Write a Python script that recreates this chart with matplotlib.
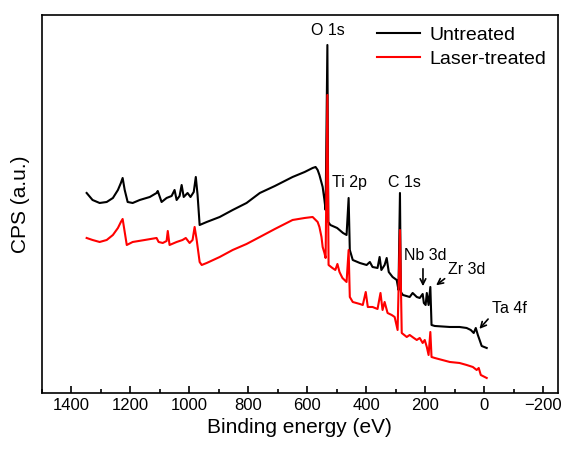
import matplotlib
matplotlib.use("Agg")
import matplotlib.pyplot as plt
from matplotlib.ticker import MultipleLocator

plt.rcParams['font.family'] = ['Liberation Sans', 'DejaVu Sans']

# Binding energy (eV) and intensity (a.u.)
untreated_be = [1347, 1327, 1303, 1279, 1258, 1241, 1231, 1225, 1218, 1208,
                1191, 1167, 1133, 1110, 1106, 1093, 1076, 1059, 1049, 1042,
                1032, 1025, 1018, 1005, 995, 984, 977, 971, 964, 940,
                896, 852, 805, 760, 709, 649, 608, 581, 571, 564,
                558, 547, 541, 537, 531, 528, 521, 498, 478, 466,
                459, 455, 445, 421, 398, 387, 378, 361, 354, 348,
                337, 330, 323, 310, 296, 290, 285, 282, 275, 252,
                242, 228, 218, 208, 204, 198, 194, 188, 182, 178,
                167, 116, 83, 59, 45, 35, 28, 21, 15, 8, -9]
untreated_cps = [200, 193, 190, 191, 195, 203, 210, 215, 203, 191,
                 190, 193, 196, 200, 202, 191, 195, 197, 203, 193,
                 197, 208, 196, 200, 196, 201, 216, 198, 168, 171,
                 176, 183, 190, 200, 207, 216, 221, 225, 226, 223,
                 218, 206, 193, 183, 348, 171, 168, 165, 160, 158,
                 195, 143, 133, 130, 128, 131, 126, 125, 136, 123,
                 128, 135, 121, 116, 113, 103, 200, 101, 98, 96,
                 100, 96, 95, 99, 90, 88, 100, 88, 106, 68,
                 67, 66, 66, 65, 63, 60, 65, 58, 53, 47, 45]

laser_be = [1347, 1327, 1303, 1279, 1258, 1241, 1231, 1225, 1218, 1211,
            1191, 1150, 1110, 1103, 1089, 1076, 1072, 1066, 1042, 1022,
            1011, 998, 988, 981, 974, 964, 957, 940, 896, 852,
            805, 760, 709, 649, 608, 581, 564, 558, 551, 547,
            541, 537, 531, 527, 514, 504, 497, 490, 480, 466,
            459, 455, 445, 421, 411, 401, 394, 378, 361, 351,
            344, 337, 327, 313, 303, 293, 285, 279, 262, 252,
            238, 228, 218, 208, 201, 194, 188, 182, 178, 167,
            116, 83, 59, 38, 25, 18, 11, -9]
laser_cps = [155, 153, 151, 153, 158, 165, 171, 174, 161, 148,
             151, 153, 155, 151, 150, 152, 162, 148, 151, 153,
             155, 150, 153, 166, 153, 131, 128, 130, 136, 143,
             149, 156, 164, 173, 175, 176, 171, 166, 156, 146,
             140, 135, 298, 128, 125, 123, 129, 121, 115, 111,
             143, 96, 91, 89, 88, 101, 86, 86, 84, 100,
             83, 91, 80, 78, 76, 63, 163, 60, 56, 58,
             55, 53, 55, 50, 53, 46, 38, 61, 36, 35,
             31, 30, 28, 26, 23, 25, 18, 15]

fig = plt.figure(figsize=(5.64, 4.5), dpi=100)
ax = fig.add_axes([0.0736, 0.1267, 0.9154, 0.84])

ax.plot(untreated_be, untreated_cps, color='black', lw=1.5, label='Untreated')
ax.plot(laser_be, laser_cps, color='red', lw=1.5, label='Laser-treated')

ax.set_xlim(1500, -250)
ax.set_ylim(0, 378)
ax.xaxis.set_major_locator(MultipleLocator(200))
ax.xaxis.set_minor_locator(MultipleLocator(100))
ax.tick_params(axis='x', which='both', direction='in', labelsize=12, width=1.2)
ax.tick_params(axis='x', which='major', length=5)
ax.tick_params(axis='x', which='minor', length=3)
ax.set_yticks([])
for s in ax.spines.values():
    s.set_linewidth(1.2)

ax.set_xlabel('Binding energy (eV)', fontsize=15)
ax.set_ylabel('CPS (a.u.)', fontsize=15, labelpad=8)

# peak labels
fs = 11.5
ax.text(531, 355, 'O 1s', ha='center', va='bottom', fontsize=fs)
ax.text(455, 203, 'Ti 2p', ha='center', va='bottom', fontsize=fs)
ax.text(270, 203, 'C 1s', ha='center', va='bottom', fontsize=fs)
ax.text(200, 130, 'Nb 3d', ha='center', va='bottom', fontsize=fs)
ax.text(58, 123, 'Zr 3d', ha='center', va='center', fontsize=fs)
ax.text(-85, 84, 'Ta 4f', ha='center', va='center', fontsize=fs)
arrow = dict(arrowstyle='->', color='black', lw=1.2)
ax.annotate('', xy=(207, 104), xytext=(207, 127), arrowprops=arrow)
ax.annotate('', xy=(170, 106), xytext=(126, 116), arrowprops=arrow)
ax.annotate('', xy=(22, 62), xytext=(-20, 76), arrowprops=arrow)

ax.legend(loc='upper right', frameon=False, fontsize=14, handlelength=2.2,
          borderaxespad=0.2, labelspacing=0.3, handletextpad=0.5)

fig.savefig('out.png', dpi=100)
